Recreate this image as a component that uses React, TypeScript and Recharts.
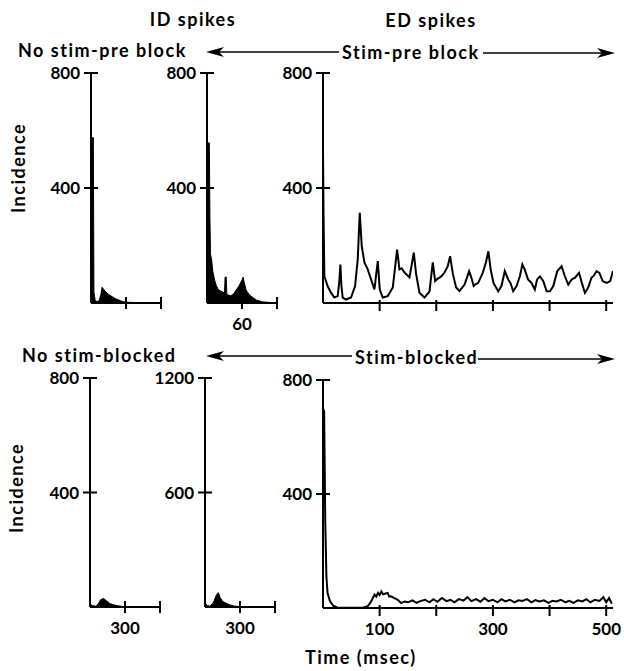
import React from 'react';
import { ComposedChart, Area, Line, XAxis, YAxis } from 'recharts';

// ---- Data (time in msec, incidence counts) ----
// Top row: pre block
const idNoStimPreT = [0, 4, 5, 7, 10, 14, 17, 19, 21, 24, 27, 30, 34, 38, 42, 46, 50, 55, 60, 70, 80, 120];
const idNoStimPreV = [575, 575, 40, 10, 5, 8, 30, 55, 50, 42, 35, 30, 25, 20, 15, 12, 8, 5, 3, 2, 1, 0];

const idStimPreT = [0, 4, 5, 6, 8, 10, 13, 16, 20, 25, 30, 31, 33, 34, 40, 45, 50, 55, 60, 62, 64, 67, 72, 78, 85, 95, 120];
const idStimPreV = [557, 557, 300, 170, 150, 110, 80, 60, 45, 40, 35, 90, 90, 30, 25, 30, 45, 60, 80, 90, 70, 45, 30, 20, 10, 4, 0];

const edStimPreT = [0, 1, 2.4, 8.3, 14.1, 20, 26, 29, 30.7, 32.5, 34.8, 40.7, 49.5, 56.6, 61.3, 64.9, 68.4, 73.1, 79, 84.8, 90.8, 96.7, 100.2, 105.5, 114.3, 123.2, 127.2, 130.8, 135, 139, 143.8, 148, 152.7, 160.3, 164.3, 170.3, 179.2, 188, 193.8, 198, 202, 205.7, 210, 214.5, 220.3, 224.4, 229.2, 235, 241, 250, 258, 262, 266, 270, 274, 282, 287.5, 292, 296, 301, 309.3, 315, 321, 327, 331, 335.8, 341.7, 347.6, 352, 356, 362, 368, 374, 378, 383, 389, 394.8, 400.7, 406.6, 413.6, 421.3, 427, 433, 439, 445, 452, 457, 462.4, 468, 474, 478, 483, 488, 494, 501, 507, 512];
const edStimPreV = [532, 300, 93, 58, 36, 19, 24, 80, 134, 60, 19, 12, 19, 58, 151, 314, 198, 141, 117, 82, 47, 146, 47, 19, 24, 54, 123, 186, 117, 121, 106, 98, 89, 175, 102, 36, 19, 40, 141, 76, 84, 88, 95, 106, 128, 163, 102, 54, 42, 64, 111, 88, 59, 66, 70, 105, 140, 180, 117, 70, 41, 59, 111, 82, 70, 41, 59, 93, 134, 117, 82, 70, 47, 82, 93, 76, 41, 41, 59, 111, 128, 93, 64, 82, 88, 105, 70, 35, 53, 88, 95, 111, 105, 76, 70, 76, 111];

// Bottom row: blocked
const idNoStimBlockedT = [0, 20, 50, 70, 90, 115, 140, 170, 200, 240, 280, 350, 600];
const idNoStimBlockedV = [10, 5, 3, 10, 25, 30, 22, 12, 8, 4, 2, 0, 0];

const idStimBlockedT = [0, 20, 40, 70, 95, 114, 130, 150, 180, 210, 250, 300, 600];
const idStimBlockedV = [20, 8, 5, 20, 60, 75, 50, 30, 20, 12, 5, 2, 0];

const edStimBlockedT = [0, 2, 4, 6, 8, 12, 18, 25, 70, 79, 85, 91, 94, 97, 100, 103, 106, 109, 114, 117, 120, 126, 132, 138, 144, 150, 158, 165, 172, 180, 188, 195, 202, 210, 218, 225, 232, 240, 248, 255, 262, 270, 278, 285, 292, 300, 308, 315, 322, 330, 338, 345, 352, 360, 368, 375, 382, 390, 398, 405, 412, 420, 428, 435, 442, 450, 458, 465, 472, 480, 488, 495, 500, 505, 510];
const edStimBlockedV = [700, 690, 300, 111, 53, 25, 8, 2, 1, 6, 23, 47, 40, 53, 45, 58, 48, 50, 53, 40, 41, 35, 29, 17, 23, 20, 27, 18, 24, 29, 20, 31, 22, 35, 24, 29, 20, 31, 26, 38, 24, 31, 22, 35, 24, 29, 20, 31, 23, 29, 20, 27, 25, 31, 20, 28, 23, 27, 18, 25, 23, 29, 20, 25, 18, 27, 23, 31, 20, 29, 25, 38, 20, 35, 15];

const smallTicksPre = [60, 120];
const smallTicksBlocked = [300, 600];
const edTicks = [100, 200, 300, 400, 500];
const yTicks800 = [400, 800];
const yTicks1200 = [600, 1200];

const FONT = 'Lato, "Open Sans", sans-serif';

const zip = (t: number[], v: number[]) => t.map((x, i) => ({ t: x, v: v[i] }));

type PanelProps = {
  axisX: number;
  plotTop: number;
  plotW: number;
  plotH: number;
  xDomain: [number, number];
  xTicks: number[];
  xLabels: number[];
  yDomain: [number, number];
  yTicks: number[];
  data: { t: number; v: number }[];
  kind: 'area' | 'line';
  tickDown?: boolean;
};

function Panel(p: PanelProps) {
  const YW = 60;
  const MT = 10;
  const MR = 10;
  const XH = 40;
  const width = YW + p.plotW + MR;
  const height = MT + p.plotH + XH;
  const bottom = MT + p.plotH;

  const yTick = (props: any) => {
    const { y, payload } = props;
    return (
      <g>
        <line x1={YW - 7} x2={YW + 7} y1={y} y2={y} stroke="#000" strokeWidth={2} />
        <text x={YW - 11} y={y} dy="0.36em" textAnchor="end" fontFamily={FONT} fontWeight={700} fontSize={17} fill="#000">
          {payload.value}
        </text>
      </g>
    );
  };
  const xTick = (props: any) => {
    const { x, payload } = props;
    const show = p.xLabels.includes(payload.value);
    return (
      <g>
        <line x1={x} x2={x} y1={p.tickDown ? bottom - 3 : bottom - 6} y2={p.tickDown ? bottom + 8 : bottom + 6} stroke="#000" strokeWidth={2} />
        {show && (
          <text x={x} y={bottom + 21} dy="0.36em" textAnchor="middle" fontFamily={FONT} fontWeight={700} fontSize={17} fill="#000">
            {payload.value}
          </text>
        )}
      </g>
    );
  };

  return (
    <div style={{ position: 'absolute', left: p.axisX - YW, top: p.plotTop - MT }}>
      <ComposedChart width={width} height={height} data={p.data} margin={{ top: MT, right: MR, left: 0, bottom: 0 }}>
        <XAxis
          type="number"
          dataKey="t"
          domain={p.xDomain}
          ticks={p.xTicks}
          interval={0}
          height={XH}
          tick={xTick}
          tickLine={false}
          axisLine={{ stroke: '#000', strokeWidth: 2 }}
          allowDataOverflow
        />
        <YAxis
          type="number"
          domain={p.yDomain}
          ticks={p.yTicks}
          interval={0}
          width={YW}
          tick={yTick}
          tickLine={false}
          axisLine={{ stroke: '#000', strokeWidth: 2 }}
          allowDataOverflow
        />
        {p.kind === 'area' ? (
          <Area type="linear" dataKey="v" stroke="#000" strokeWidth={1} fill="#000" fillOpacity={1} isAnimationActive={false} dot={false} activeDot={false} />
        ) : (
          <Line type="linear" dataKey="v" stroke="#000" strokeWidth={2} isAnimationActive={false} dot={false} activeDot={false} />
        )}
      </ComposedChart>
    </div>
  );
}

const textStyle = { fontFamily: FONT, fontWeight: 700, fontSize: 18, letterSpacing: 1.5, fill: '#000' } as const;

export default function App() {
  return (
    <div style={{ position: 'absolute', left: 0, top: 0, width: 624, height: 671, background: '#fff', overflow: 'hidden' }}>
      <Panel axisX={91} plotTop={73} plotW={70} plotH={230} xDomain={[0, 120]} xTicks={smallTicksPre} xLabels={[]} yDomain={[0, 800]} yTicks={yTicks800} data={zip(idNoStimPreT, idNoStimPreV)} kind="area" />
      <Panel axisX={207} plotTop={73} plotW={70} plotH={230} xDomain={[0, 120]} xTicks={smallTicksPre} xLabels={[60]} yDomain={[0, 800]} yTicks={yTicks800} data={zip(idStimPreT, idStimPreV)} kind="area" />
      <Panel axisX={323} plotTop={73} plotW={290} plotH={230} xDomain={[0, 512]} xTicks={edTicks} xLabels={[]} yDomain={[0, 800]} yTicks={yTicks800} data={zip(edStimPreT, edStimPreV)} kind="line" tickDown />

      <Panel axisX={90} plotTop={378} plotW={70} plotH={229} xDomain={[0, 600]} xTicks={smallTicksBlocked} xLabels={[300]} yDomain={[0, 800]} yTicks={yTicks800} data={zip(idNoStimBlockedT, idNoStimBlockedV)} kind="area" />
      <Panel axisX={205} plotTop={378} plotW={70} plotH={229} xDomain={[0, 600]} xTicks={smallTicksBlocked} xLabels={[300]} yDomain={[0, 1200]} yTicks={yTicks1200} data={zip(idStimBlockedT, idStimBlockedV)} kind="area" />
      <Panel axisX={323} plotTop={380} plotW={290} plotH={228} xDomain={[0, 512]} xTicks={edTicks} xLabels={[100, 300, 500]} yDomain={[0, 800]} yTicks={yTicks800} data={zip(edStimBlockedT, edStimBlockedV)} kind="line" tickDown />

      <svg width={624} height={671} style={{ position: 'absolute', left: 0, top: 0, pointerEvents: 'none' }}>
        <text x={193} y={26} textAnchor="middle" {...textStyle}>ID spikes</text>
        <text x={431} y={27} textAnchor="middle" {...textStyle}>ED spikes</text>

        <text x={18} y={57} {...textStyle}>No stim-pre block</text>
        <line x1={210} y1={52} x2={339} y2={52} stroke="#000" strokeWidth={1.3} />
        <path d="M206,52 L224,47 L219,52 L224,57 Z" fill="#000" />
        <text x={342} y={59} {...textStyle}>Stim-pre block</text>
        <line x1={483} y1={53} x2={610} y2={53} stroke="#000" strokeWidth={1.3} />
        <path d="M615,53 L597,48 L602,53 L597,58 Z" fill="#000" />

        <text x={22} y={362} {...textStyle}>No stim-blocked</text>
        <line x1={210} y1={356} x2={352} y2={356} stroke="#000" strokeWidth={1.3} />
        <path d="M206,356 L224,351 L219,356 L224,361 Z" fill="#000" />
        <text x={355} y={364} {...textStyle}>Stim-blocked</text>
        <line x1={478} y1={359} x2={610} y2={359} stroke="#000" strokeWidth={1.3} />
        <path d="M615,359 L597,354 L602,359 L597,364 Z" fill="#000" />

        <text x={25} y={168} textAnchor="middle" transform="rotate(-90 25 168)" {...textStyle}>Incidence</text>
        <text x={23} y={488} textAnchor="middle" transform="rotate(-90 23 488)" {...textStyle}>Incidence</text>

        <text x={305} y={664} {...textStyle}>Time (msec)</text>
      </svg>
    </div>
  );
}
